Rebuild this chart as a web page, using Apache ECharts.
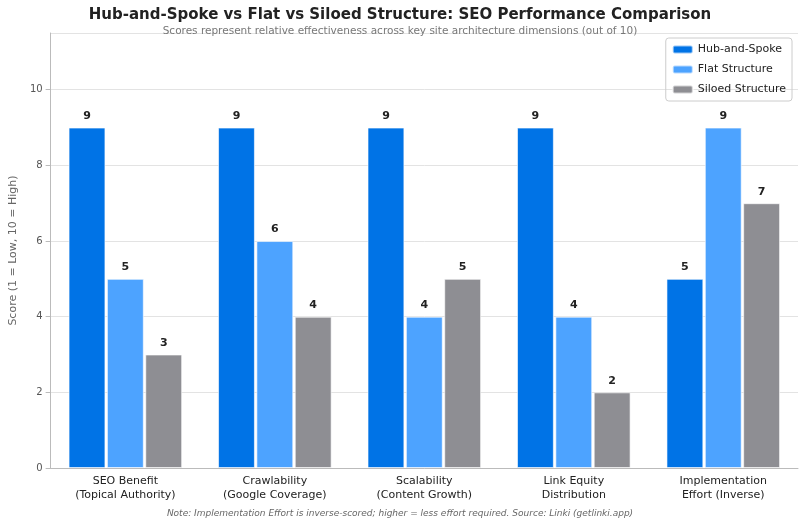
<!DOCTYPE html>
<html><head><meta charset="utf-8">
<script src="https://cdn.jsdelivr.net/npm/echarts@6/dist/echarts.min.js"></script>
<style>html,body{margin:0;padding:0;background:#fff}#c{width:800px;height:527px}</style>
</head><body><div id="c"></div>
<script>
const categories = ["SEO Benefit\n(Topical Authority)","Crawlability\n(Google Coverage)","Scalability\n(Content Growth)","Link Equity\nDistribution","Implementation\nEffort (Inverse)"];
const hubSpoke = [9,9,9,9,5];
const flat = [5,6,4,4,9];
const siloed = [3,4,5,2,7];
const yTicks = [0,2,4,6,8,10];
const font = "DejaVu Sans";
const mk = (name, data, color) => ({
  name, type:'bar', data, barGap:'4%',barCategoryGap:'24%',
  itemStyle:{color, borderColor:'rgba(255,255,255,0.6)', borderWidth:1},
  label:{show:true, position:'top', fontWeight:'bold', fontSize:11, color:'#222', fontFamily:font, distance:6}
});
const chart = echarts.init(document.getElementById('c'));
chart.setOption({
  animation:false,
  textStyle:{fontFamily:font},
  title:[{text:'Hub-and-Spoke vs Flat vs Siloed Structure: SEO Performance Comparison', left:'center', top:3,
    textStyle:{fontSize:15, fontWeight:'bold', color:'#222', fontFamily:font},
    subtext:'Scores represent relative effectiveness across key site architecture dimensions (out of 10)', itemGap:3,
    subtextStyle:{fontSize:10.5, color:'#777', fontFamily:font}},
    {text:'Note: Implementation Effort is inverse-scored; higher = less effort required. Source: Linki (getlinki.app)', left:'center', bottom:4,
    textStyle:{fontSize:9, fontStyle:'italic', fontWeight:'normal', color:'#666', fontFamily:font}}],
  legend:{orient:'vertical', right:8, top:38, itemWidth:20, itemHeight:8, itemGap:9,
    borderColor:'#ccc', borderWidth:1, borderRadius:3, padding:[6,6,6,6],
    textStyle:{fontSize:11, color:'#222', fontFamily:font}},
  grid:{left:45, right:2, top:33, bottom:59},
  xAxis:{type:'category', data:categories, axisTick:{show:false},
    axisLine:{lineStyle:{color:'#bbb'}},
    axisLabel:{fontSize:11, color:'#222', fontFamily:font, lineHeight:14, margin:6}},
  yAxis:{type:'value', min:0, max:11.5, interval:2,
    name:'Score (1 = Low, 10 = High)', nameLocation:'middle', nameGap:28,
    nameTextStyle:{fontSize:11, color:'#666', fontFamily:font},
    axisLine:{show:true, lineStyle:{color:'#bbb'}}, axisTick:{show:true, lineStyle:{color:'#bbb'}},
    axisLabel:{fontSize:10, color:'#555', showMaxLabel:false, formatter:v=>yTicks.includes(v)?v:''},
    splitLine:{lineStyle:{color:'#e3e3e3'}}},
  series:[mk('Hub-and-Spoke',hubSpoke,'#0073E6'), mk('Flat Structure',flat,'#4DA3FF'), mk('Siloed Structure',siloed,'#8E8E93')]
});
</script></body></html>
